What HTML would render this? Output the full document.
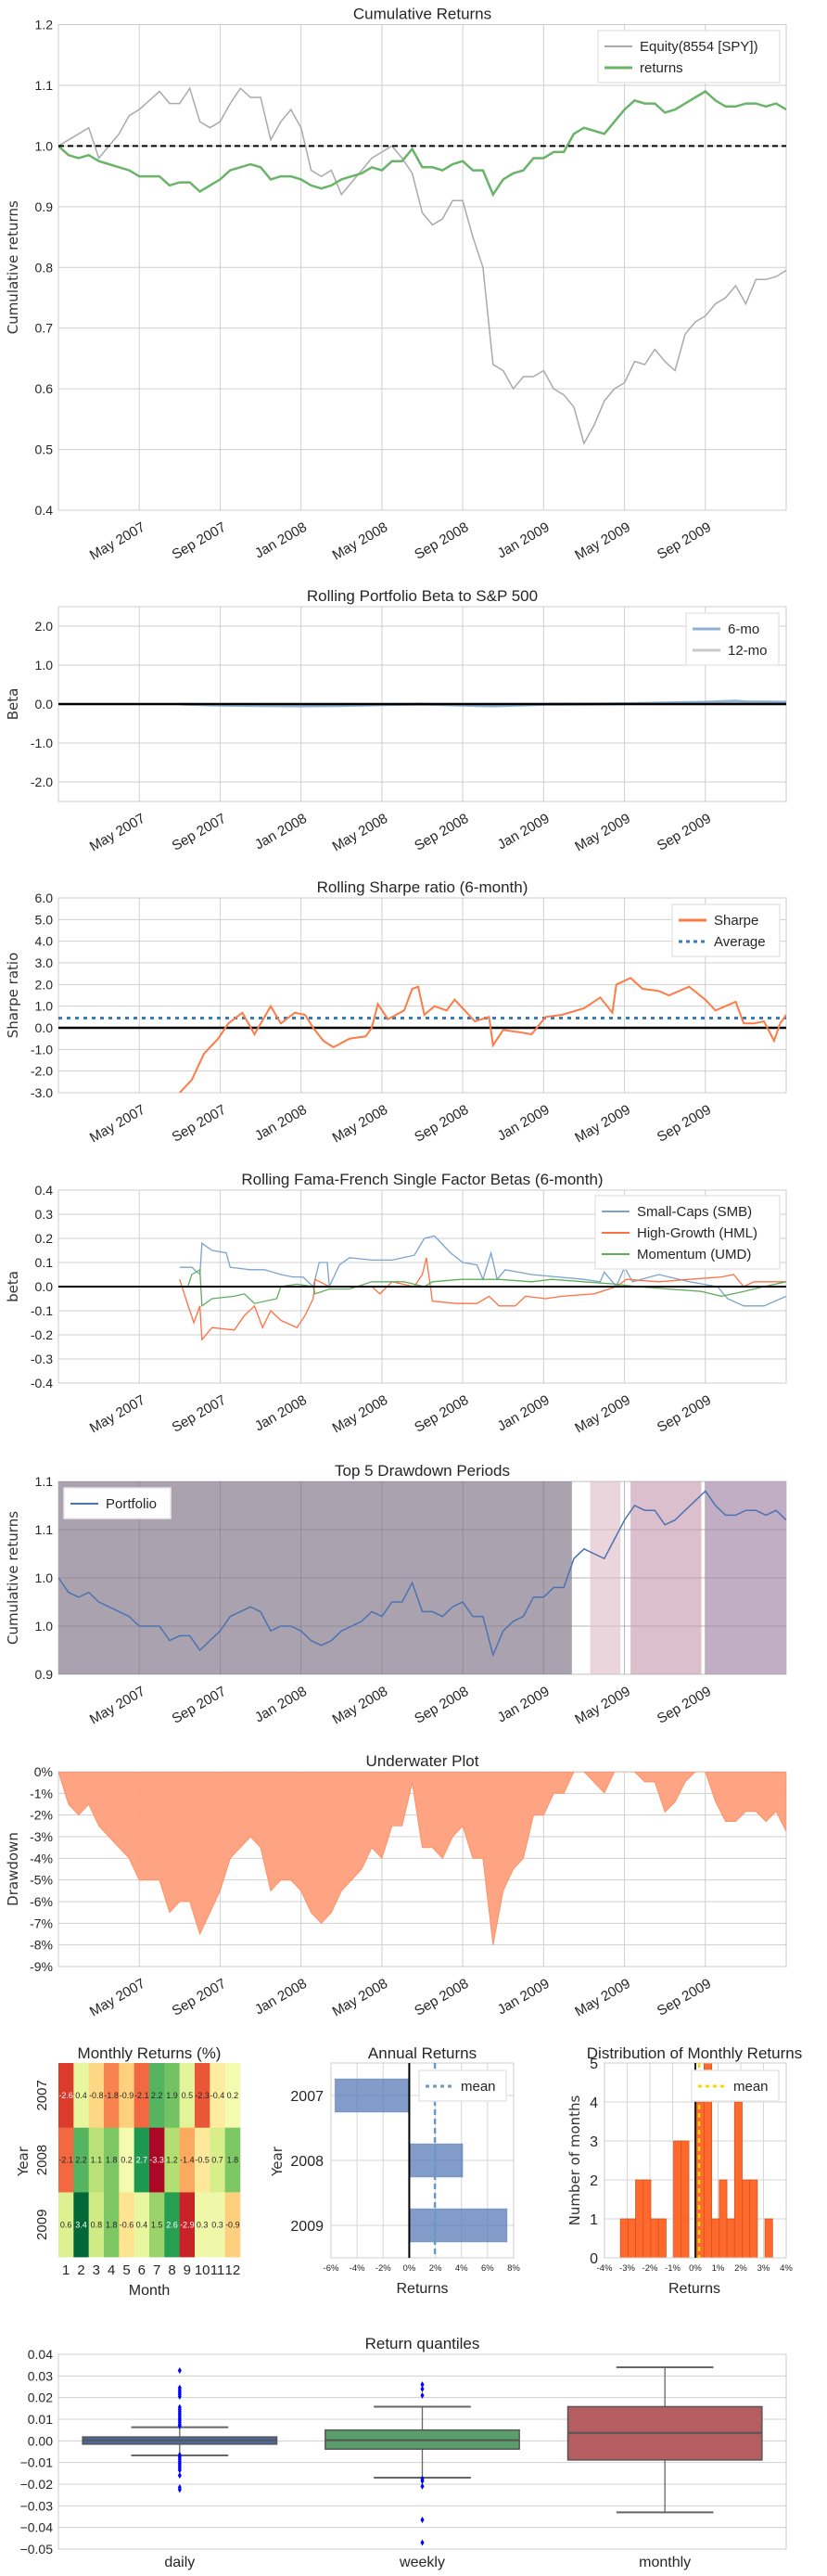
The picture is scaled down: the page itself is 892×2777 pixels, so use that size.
<!DOCTYPE html>
<html><head><meta charset="utf-8"><title>Tear sheet</title>
<style>
html,body{margin:0;padding:0;background:#fff;}
svg{display:block;}
text{font-family:"Liberation Sans Narrow","Liberation Sans",sans-serif;fill:#262626;}
.yl{font-family:"DejaVu Sans","Liberation Sans",sans-serif;font-size:15px;fill:#333;}
</style></head>
<body>
<svg id="root" xmlns="http://www.w3.org/2000/svg" width="892" height="2777" viewBox="0 0 892 2777"></svg>
<script>
// ---------- DATA ----------
const dateTickT = [4, 8, 12, 16, 20, 24, 28, 32];
const dateTickLabels = ['May 2007','Sep 2007','Jan 2008','May 2008','Sep 2008','Jan 2009','May 2009','Sep 2009'];
const spyEquity = [1.0,1.01,1.02,1.03,0.98,1.0,1.02,1.05,1.06,1.075,1.09,1.07,1.07,1.095,1.04,1.03,1.04,1.07,1.095,1.08,1.08,1.01,1.04,1.06,1.03,0.96,0.95,0.96,0.92,0.94,0.96,0.98,0.99,1.0,0.98,0.955,0.89,0.87,0.88,0.91,0.91,0.85,0.80,0.64,0.63,0.60,0.62,0.62,0.63,0.60,0.59,0.57,0.51,0.54,0.58,0.60,0.61,0.645,0.64,0.665,0.645,0.63,0.69,0.71,0.72,0.74,0.75,0.77,0.74,0.78,0.78,0.785,0.795];
const stratReturns = [1.0,0.985,0.98,0.985,0.975,0.97,0.965,0.96,0.95,0.95,0.95,0.935,0.94,0.94,0.925,0.935,0.945,0.96,0.965,0.97,0.965,0.945,0.95,0.95,0.945,0.935,0.93,0.935,0.945,0.95,0.955,0.965,0.96,0.975,0.975,0.995,0.965,0.965,0.96,0.97,0.975,0.96,0.96,0.92,0.945,0.955,0.96,0.98,0.98,0.99,0.99,1.02,1.03,1.025,1.02,1.04,1.06,1.075,1.07,1.07,1.055,1.06,1.07,1.08,1.09,1.075,1.065,1.065,1.07,1.07,1.065,1.07,1.06];
const beta6T = [6,8,10,12,14,16,18,20,21.5,24,27,30,32,33.5,34,36];
const beta6V = [0,-0.03,-0.04,-0.05,-0.04,-0.02,0,-0.03,-0.05,-0.01,0,0.03,0.05,0.08,0.06,0.05];
const beta12T = [12,18,24,30,36];
const beta12V = [-0.02,-0.01,0.0,0.02,0.03];
const sharpeT = [6,6.6,7.2,7.9,8.4,9.1,9.7,10.5,11,11.7,12.2,12.6,13.1,13.6,14.4,15.2,15.5,15.8,16.3,17.1,17.5,17.8,18.1,18.6,19.2,19.6,20.1,20.6,21.3,21.5,22,22.8,23.4,24.1,24.9,26,26.8,27.4,27.6,28.3,28.9,29.7,30.2,31.2,32,32.5,33.5,33.9,34.4,34.9,35.4,35.7,36];
const sharpeV = [-3.0,-2.4,-1.2,-0.5,0.2,0.7,-0.3,1.0,0.2,0.7,0.6,0.0,-0.6,-0.9,-0.5,-0.4,0.0,1.1,0.4,0.8,1.8,1.9,0.6,1.0,0.8,1.3,0.8,0.3,0.5,-0.8,-0.1,-0.2,-0.3,0.5,0.6,0.9,1.4,0.7,2.0,2.3,1.8,1.7,1.5,1.9,1.3,0.8,1.2,0.2,0.2,0.3,-0.6,0.2,0.6];
const sharpeAvg = [0.45];
const smbT = [6.0,6.6,7.0,7.1,7.6,8.3,8.5,9.5,10.2,11.0,11.6,12.1,12.6,12.9,13.3,13.4,13.9,14.4,15.5,16.5,17.6,18.1,18.6,19.4,20.0,20.7,21.0,21.4,21.7,22.1,23.4,24.7,26.0,26.8,27.0,27.6,28.0,28.4,29.7,31.2,32.6,33.1,33.9,34.9,36];
const smbV = [0.08,0.08,0.05,0.18,0.15,0.14,0.08,0.07,0.07,0.05,0.04,0.04,0,0.1,0.1,0,0.09,0.12,0.11,0.11,0.13,0.2,0.21,0.14,0.1,0.09,0.03,0.14,0.03,0.07,0.05,0.04,0.03,0.02,0.06,0,0.08,0.02,0.05,0.02,0,-0.05,-0.08,-0.08,-0.04];
const hmlT = [6.0,6.3,6.7,7.0,7.1,7.6,8.7,9.2,9.7,10.1,10.5,11.0,11.8,12.2,12.6,12.7,13.4,14.4,15.5,15.9,16.5,17.6,18.0,18.2,18.5,19.7,20.7,21.3,21.8,22.6,23.1,24.1,24.9,26.5,27.6,28.1,29.7,31.2,32.8,33.4,33.9,34.4,36];
const hmlV = [0.03,-0.05,-0.15,-0.08,-0.22,-0.17,-0.18,-0.12,-0.08,-0.17,-0.1,-0.14,-0.17,-0.12,-0.05,0.03,0,0,0,-0.03,0.02,0,0.05,0.12,-0.06,-0.07,-0.07,-0.04,-0.08,-0.08,-0.04,-0.05,-0.04,-0.03,0,0.03,0.02,0.03,0.04,0.05,0,0.02,0.02];
const umdT = [6.0,6.4,6.6,7.0,7.1,7.6,8.7,9.2,9.7,10.8,11.0,11.8,12.6,12.7,13.4,14.4,15.5,17.1,18.1,18.5,19.9,21.8,23.4,24.4,26.0,27.6,28.6,30.2,31.8,32.8,33.9,34.9,36];
const umdV = [0,0,0.05,0.07,-0.08,-0.05,-0.04,-0.03,-0.07,-0.05,0,0.01,0,-0.03,-0.01,-0.01,0.02,0.02,0,0.02,0.03,0.03,0.02,0.03,0.02,0.01,0,-0.01,-0.02,-0.04,-0.02,0,0.02];
const ddStart = [0, 26.3, 28.3, 32.0];
const ddEnd = [25.4, 27.8, 31.8, 36];
const ddColors = ['#aaa3af','#ebd5dc','#dbbfcd','#c2aec4'];
const years = ['2007','2008','2009'];
const months = ['1','2','3','4','5','6','7','8','9','10','11','12'];
const monthly2007 = [-2.6,0.4,-0.8,-1.8,-0.9,-2.1,2.2,1.9,0.5,-2.3,-0.4,0.2];
const monthly2008 = [-2.1,2.2,1.1,1.8,0.2,2.7,-3.3,1.2,-1.4,-0.5,0.7,1.8];
const monthly2009 = [0.6,3.4,0.8,1.8,-0.6,0.4,1.5,2.6,-2.9,0.3,0.3,-0.9];
const annualReturns = [-5.7, 4.1, 7.5];
const quantCats = ['daily','weekly','monthly'];
const qLow = [-0.0067,-0.0170,-0.0330];
const qQ1 = [-0.0015,-0.0038,-0.0088];
const qMed = [0.0003,0.0003,0.0037];
const qQ3 = [0.0018,0.0050,0.0158];
const qHigh = [0.0063,0.0158,0.0340];
const outDaily = [0.0068,0.0075,0.0085,0.0095,0.0105,0.0115,0.0125,0.0135,0.0145,0.0155,0.0205,0.0215,0.0225,0.0235,0.0245,0.0325,-0.0065,-0.0075,-0.0085,-0.0095,-0.0105,-0.0115,-0.0125,-0.0135,-0.0160,-0.0215,-0.0225];
const outWeekly = [0.021,0.024,0.026,-0.0175,-0.0185,-0.021,-0.0365,-0.047];
const outMonthly = [];

// ---------- HELPERS ----------
const NS = 'http://www.w3.org/2000/svg';
const svg = document.getElementById('root');
function el(tagName, attrs, parent) {
  const e = document.createElementNS(NS, tagName);
  for (const k in attrs) e.setAttribute(k, attrs[k]);
  (parent || svg).appendChild(e);
  return e;
}
function nm(e, name) {
  
  
  return e;
}
function txt(str, attrs, parent) {
  const e = el('text', attrs, parent);
  e.textContent = str;
  return e;
}
const PL = 63, PR = 848;
function tx(t) { return PL + t / 36 * (PR - PL); }
function lin(d0, d1, r0, r1) { return v => r0 + (v - d0) / (d1 - d0) * (r1 - r0); }
function fmtMinus(s) { return s.replace('-', '\u2212'); }

function panel(name, top, bot, dmin, dmax, ticks, labels, title, ylabel) {
  const g = el('g', {});
  nm(g, name);
  const y = lin(dmin, dmax, bot, top);
  const t = txt(title, {x: (PL+PR)/2, y: top - 6, 'text-anchor': 'middle', 'font-size': 17}, g);
  nm(t, name + '-title');
  const grid = el('g', {}, g);
  nm(grid, name + '-grid');
  ticks.forEach((v, i) => {
    const yy = y(v);
    el('line', {x1: PL, x2: PR, y1: yy, y2: yy, stroke: '#cfcfcf', 'stroke-width': 1}, grid);
    const lb = txt(labels[i], {x: 57, y: yy + 5, 'text-anchor': 'end', 'font-size': 14}, g);
    nm(lb, 'y-tick-label');
  });
  dateTickT.forEach((tt, i) => {
    const xx = tx(tt);
    el('line', {x1: xx, x2: xx, y1: top, y2: bot, stroke: '#cfcfcf', 'stroke-width': 1}, grid);
    const lb = txt(dateTickLabels[i], {transform: `translate(${xx+2},${bot+12}) rotate(-30)`, 'text-anchor': 'end', 'font-size': 15, dy: '0.7em'}, g);
    nm(lb, 'x-tick-label');
  });
  const fr = el('rect', {x: PL, y: top, width: PR-PL, height: bot-top, fill: 'none', stroke: '#cccccc', 'stroke-width': 1}, g);
  nm(fr, name + '-frame');
  const yl = txt(ylabel, {class: 'yl', transform: `translate(19,${(top+bot)/2}) rotate(-90)`, 'text-anchor': 'middle'}, g);
  nm(yl, 'y-axis-title');
  const cid = 'clip-' + name;
  const cp = el('clipPath', {id: cid}, g);
  el('rect', {x: PL, y: top, width: PR-PL, height: bot-top}, cp);
  const plot = el('g', {'clip-path': `url(#${cid})`}, g);
  nm(plot, name + '-plot');
  return {g, grid, plot, y, top, bot};
}
function pathFromTV(T, V, y) {
  return T.map((t, i) => (i ? 'L' : 'M') + tx(t).toFixed(1) + ',' + y(V[i]).toFixed(1)).join('');
}
function evenT(arr) { return arr.map((_, i) => i * 36 / (arr.length - 1)); }
function legend(parent, x, y, w, entries, name) {
  const g = el('g', {}, parent);
  nm(g, name);
  const h = entries.length * 23 + 10;
  el('rect', {x, y, width: w, height: h, fill: '#fff', stroke: '#e6e6e6', 'stroke-width': 1.5}, g);
  entries.forEach((e, i) => {
    const yy = y + 17 + i * 23;
    const ln = el('line', {x1: x+7, x2: x+37, y1: yy, y2: yy, stroke: e.c, 'stroke-width': e.w || 2, 'stroke-dasharray': e.d || 'none', opacity: e.o || 1}, g);
    nm(ln, 'legend-swatch');
    const t = txt(e.t, {x: x+45, y: yy + 5, 'font-size': 15}, g);
    nm(t, 'legend-entry');
  });
}
const decTicks = (a, b, s) => { const r = []; for (let v = a; v <= b + 1e-9; v += s) r.push(+v.toFixed(4)); return r; };

// ---------- PANEL 1 ----------
{
  const ticks = decTicks(0.4, 1.2, 0.1);
  const p = panel('cumulative-returns-chart', 26.5, 550, 0.4, 1.2, ticks, ticks.map(v => v.toFixed(1)), 'Cumulative Returns', 'Cumulative returns');
  const l1 = el('path', {d: pathFromTV(evenT(spyEquity), spyEquity, p.y), fill: 'none', stroke: '#aaaaaa', 'stroke-width': 1.5}, p.plot);
  nm(l1, 'spy-equity-line');
  const l2 = el('path', {d: pathFromTV(evenT(stratReturns), stratReturns, p.y), fill: 'none', stroke: '#6ab46a', 'stroke-width': 2.5}, p.plot);
  nm(l2, 'returns-line');
  const ref = el('line', {x1: PL, x2: PR, y1: p.y(1), y2: p.y(1), stroke: '#000', 'stroke-width': 2, 'stroke-dasharray': '6,4'}, p.plot);
  nm(ref, 'baseline-1');
  legend(p.g, 645, 33, 196, [{t: 'Equity(8554 [SPY])', c: '#aaaaaa'}, {t: 'returns', c: '#6ab46a', w: 3}], 'cumulative-legend');
}
// ---------- PANEL 2 ----------
{
  const ticks = [-2, -1, 0, 1, 2];
  const p = panel('rolling-beta-chart', 654, 864, -2.5, 2.5, ticks, ticks.map(v => v.toFixed(1)), 'Rolling Portfolio Beta to S&P 500', 'Beta');
  const b12 = el('path', {d: pathFromTV(beta12T, beta12V, p.y), fill: 'none', stroke: '#bbbbbb', 'stroke-width': 3, opacity: 0.8}, p.plot);
  nm(b12, 'beta-12mo-line');
  const b6 = el('path', {d: pathFromTV(beta6T, beta6V, p.y), fill: 'none', stroke: '#7ba3cc', 'stroke-width': 3, opacity: 0.8}, p.plot);
  nm(b6, 'beta-6mo-line');
  const z = el('line', {x1: PL, x2: PR, y1: p.y(0), y2: p.y(0), stroke: '#000', 'stroke-width': 2.5}, p.plot);
  nm(z, 'zero-line');
  legend(p.g, 740, 661, 100, [{t: '6-mo', c: '#8fb2d4', w: 3}, {t: '12-mo', c: '#c8c8c8', w: 3}], 'beta-legend');
}
// ---------- PANEL 3 ----------
{
  const ticks = [-3,-2,-1,0,1,2,3,4,5,6];
  const p = panel('rolling-sharpe-chart', 968, 1178, -3, 6, ticks, ticks.map(v => v.toFixed(1)), 'Rolling Sharpe ratio (6-month)', 'Sharpe ratio');
  const av = el('line', {x1: PL, x2: PR, y1: p.y(sharpeAvg[0]), y2: p.y(sharpeAvg[0]), stroke: '#3a7db5', 'stroke-width': 3, 'stroke-dasharray': '4,5'}, p.plot);
  nm(av, 'sharpe-average-line');
  const z = el('line', {x1: PL, x2: PR, y1: p.y(0), y2: p.y(0), stroke: '#000', 'stroke-width': 2.5}, p.plot);
  nm(z, 'zero-line');
  const s = el('path', {d: pathFromTV(sharpeT, sharpeV, p.y), fill: 'none', stroke: '#ff7b45', 'stroke-width': 2}, p.plot);
  nm(s, 'sharpe-line');
  legend(p.g, 725, 975, 116, [{t: 'Sharpe', c: '#ff7b45', w: 3}, {t: 'Average', c: '#3a7db5', w: 3, d: '4,4'}], 'sharpe-legend');
}
// ---------- PANEL 4 ----------
{
  const ticks = decTicks(-0.4, 0.4, 0.1);
  const p = panel('fama-french-chart', 1283, 1491, -0.4, 0.4, ticks, ticks.map(v => v.toFixed(1)), 'Rolling Fama-French Single Factor Betas (6-month)', 'beta');
  const a = el('path', {d: pathFromTV(smbT, smbV, p.y), fill: 'none', stroke: '#7ba3cc', 'stroke-width': 1.3}, p.plot);
  nm(a, 'smb-line');
  const b = el('path', {d: pathFromTV(hmlT, hmlV, p.y), fill: 'none', stroke: '#ff7043', 'stroke-width': 1.3}, p.plot);
  nm(b, 'hml-line');
  const c = el('path', {d: pathFromTV(umdT, umdV, p.y), fill: 'none', stroke: '#5fae5f', 'stroke-width': 1.3}, p.plot);
  nm(c, 'umd-line');
  const z = el('line', {x1: PL, x2: PR, y1: p.y(0), y2: p.y(0), stroke: '#000', 'stroke-width': 2}, p.plot);
  nm(z, 'zero-line');
  legend(p.g, 642, 1289, 199, [{t: 'Small-Caps (SMB)', c: '#7ba3cc'}, {t: 'High-Growth (HML)', c: '#ff7043'}, {t: 'Momentum (UMD)', c: '#5fae5f'}], 'factor-legend');
}
// ---------- PANEL 5 ----------
{
  const ticks = [0.9, 0.95, 1.0, 1.05, 1.1];
  const p = panel('drawdown-periods-chart', 1597, 1805, 0.9, 1.1, ticks, ['0.9','1.0','1.0','1.1','1.1'], 'Top 5 Drawdown Periods', 'Cumulative returns');
  ddStart.forEach((s, i) => {
    const r = el('rect', {x: tx(s), y: p.top, width: tx(ddEnd[i]) - tx(s), height: p.bot - p.top, fill: ddColors[i]}, p.plot);
    nm(r, 'drawdown-period-' + (i + 1));
  });
  ticks.forEach(v => el('line', {x1: PL, x2: PR, y1: p.y(v), y2: p.y(v), stroke: 'rgba(0,0,0,0.13)'}, p.plot));
  dateTickT.forEach(t => el('line', {x1: tx(t), x2: tx(t), y1: p.top, y2: p.bot, stroke: 'rgba(0,0,0,0.13)'}, p.plot));
  const l = el('path', {d: pathFromTV(evenT(stratReturns), stratReturns, p.y), fill: 'none', stroke: '#4c72b0', 'stroke-width': 1.5}, p.plot);
  nm(l, 'portfolio-line');
  legend(p.g, 69, 1604, 115, [{t: 'Portfolio', c: '#4c72b0'}], 'portfolio-legend');
}
// ---------- PANEL 6 ----------
{
  const ticks = [-0.09,-0.08,-0.07,-0.06,-0.05,-0.04,-0.03,-0.02,-0.01,0];
  const p = panel('underwater-chart', 1910, 2120, -0.09, 0, ticks, ticks.map(v => Math.round(v*100) + '%'), 'Underwater Plot', 'Drawdown');
  let peak = -Infinity;
  const dd = stratReturns.map(v => { peak = Math.max(peak, v); return v / peak - 1; });
  const T = evenT(dd);
  let d = 'M' + tx(0) + ',' + p.y(0);
  dd.forEach((v, i) => { d += 'L' + tx(T[i]).toFixed(1) + ',' + p.y(v).toFixed(1); });
  d += 'L' + tx(36) + ',' + p.y(0) + 'Z';
  const a = el('path', {d, fill: '#fea07c', stroke: '#fc8d62', 'stroke-width': 1, opacity: 0.95}, p.plot);
  nm(a, 'underwater-area');
}
// ---------- Monthly heatmap ----------
{
  const g = el('g', {});
  nm(g, 'monthly-returns-heatmap');
  const rows = [monthly2007, monthly2008, monthly2009];
  const stops = ['#a50026','#d73027','#f46d43','#fdae61','#fee08b','#ffffbf','#d9ef8b','#a6d96a','#66bd63','#1a9850','#006837'];
  function hex(h){return [1,3,5].map(i=>parseInt(h.substr(i,2),16));}
  function cmap(v){ let f=(v+3.4)/6.8; f=Math.max(0,Math.min(1,f)); const k=f*10; const i=Math.min(9,Math.floor(k)); const a=hex(stops[i]),b=hex(stops[i+1]); const u=k-i; return `rgb(${a.map((c,j)=>Math.round(c+(b[j]-c)*u)).join(',')})`; }
  const x0 = 63, y0 = 2224, cw = 196/12, ch = 69.7;
  const t = txt('Monthly Returns (%)', {x: 161, y: 2219, 'text-anchor': 'middle', 'font-size': 17}, g);
  nm(t, 'heatmap-title');
  rows.forEach((row, r) => {
    row.forEach((v, c) => {
      const rc = el('rect', {x: x0 + c*cw, y: y0 + r*ch, width: cw + 0.3, height: ch + 0.3, fill: cmap(v)}, g);
      nm(rc, 'heatmap-cell');
      const f = (v + 3.4) / 6.8;
      const lt = txt(v.toFixed(1), {x: x0 + c*cw + cw/2, y: y0 + r*ch + ch/2 + 3, 'text-anchor': 'middle', 'font-size': 9, style: `fill:${(f < 0.12 || f > 0.88) ? '#fff' : '#262626'}`}, g);
      nm(lt, 'heatmap-value');
    });
    const yl = txt(years[r], {transform: `translate(50,${y0 + r*ch + ch/2}) rotate(-90)`, 'text-anchor': 'middle', 'font-size': 15}, g);
    nm(yl, 'year-tick-label');
  });
  months.forEach((m, c) => {
    const ml = txt(m, {x: x0 + c*cw + cw/2, y: 2452, 'text-anchor': 'middle', 'font-size': 15}, g);
    nm(ml, 'month-tick-label');
  });
  const xl = txt('Month', {x: 161, y: 2474, 'text-anchor': 'middle', 'font-size': 16}, g);
  nm(xl, 'x-axis-title');
  const yt = txt('Year', {class: 'yl', transform: 'translate(30,2330) rotate(-90)', 'text-anchor': 'middle'}, g);
  nm(yt, 'y-axis-title');
}
// ---------- Annual returns ----------
{
  const g = el('g', {});
  nm(g, 'annual-returns-chart');
  const L = 357, R = 554, T = 2224, B = 2434;
  const x = lin(-6, 8, L, R);
  const xt = [-6,-4,-2,0,2,4,6,8];
  const t = txt('Annual Returns', {x: (L+R)/2, y: 2219, 'text-anchor': 'middle', 'font-size': 17}, g);
  nm(t, 'annual-title');
  xt.forEach(v => {
    el('line', {x1: x(v), x2: x(v), y1: T, y2: B, stroke: '#d6d6d6'}, g);
    const lb = txt(v + '%', {x: x(v), y: 2448, 'text-anchor': 'middle', 'font-size': 9.5}, g);
    nm(lb, 'x-tick-label');
  });
  const bandH = (B - T) / 3;
  annualReturns.forEach((v, i) => {
    const cy = T + bandH * (i + 0.5);
    el('line', {x1: L, x2: R, y1: cy, y2: cy, stroke: '#d6d6d6'}, g);
    const b = el('rect', {x: Math.min(x(0), x(v)), y: cy - 18, width: Math.abs(x(v) - x(0)), height: 36, fill: '#4c72b0', 'fill-opacity': 0.7, stroke: '#4c72b0', 'stroke-opacity': 0.3}, g);
    nm(b, 'annual-bar-' + years[i]);
    const yl = txt(years[i], {x: 349, y: cy + 6, 'text-anchor': 'end', 'font-size': 16}, g);
    nm(yl, 'year-tick-label');
  });
  el('rect', {x: L, y: T, width: R-L, height: B-T, fill: 'none', stroke: '#cccccc'}, g);
  const z = el('line', {x1: x(0), x2: x(0), y1: T, y2: B, stroke: '#000', 'stroke-width': 2}, g);
  nm(z, 'zero-line');
  const mean = annualReturns.reduce((a, b) => a + b, 0) / annualReturns.length;
  const m = el('line', {x1: x(mean), x2: x(mean), y1: T, y2: B, stroke: '#6a9ac4', 'stroke-width': 2.5, 'stroke-dasharray': '6,4'}, g);
  nm(m, 'mean-line');
  legend(g, 452, 2232, 94, [{t: 'mean', c: '#6a9ac4', w: 3, d: '4,4'}], 'annual-legend');
  const xl = txt('Returns', {x: (L+R)/2, y: 2472, 'text-anchor': 'middle', 'font-size': 16}, g);
  nm(xl, 'x-axis-title');
  const yl = txt('Year', {class: 'yl', transform: 'translate(304,2330) rotate(-90)', 'text-anchor': 'middle'}, g);
  nm(yl, 'y-axis-title');
}
// ---------- Distribution ----------
{
  const g = el('g', {});
  nm(g, 'monthly-distribution-chart');
  const L = 652, R = 848, T = 2224, B = 2434;
  const x = lin(-4, 4, L, R), y = lin(0, 5, B, T);
  const all = monthly2007.concat(monthly2008, monthly2009);
  const t = txt('Distribution of Monthly Returns', {x: 749, y: 2219, 'text-anchor': 'middle', 'font-size': 17}, g);
  nm(t, 'distribution-title');
  [-4,-3,-2,-1,0,1,2,3,4].forEach(v => {
    el('line', {x1: x(v), x2: x(v), y1: T, y2: B, stroke: '#d6d6d6'}, g);
    const lb = txt(v + '%', {x: x(v), y: 2448, 'text-anchor': 'middle', 'font-size': 9.5}, g);
    nm(lb, 'x-tick-label');
  });
  [0,1,2,3,4,5].forEach(v => {
    el('line', {x1: L, x2: R, y1: y(v), y2: y(v), stroke: '#d6d6d6'}, g);
    const lb = txt(String(v), {x: 645, y: y(v) + 6, 'text-anchor': 'end', 'font-size': 16}, g);
    nm(lb, 'y-tick-label');
  });
  const mn = Math.min(...all), mx = Math.max(...all), nb = 20, bw = (mx - mn) / nb;
  const counts = new Array(nb).fill(0);
  all.forEach(v => { counts[Math.min(nb - 1, Math.floor((v - mn) / bw + 1e-9))]++; });
  counts.forEach((c, i) => {
    if (!c) return;
    const b = el('rect', {x: x(mn + i*bw), y: y(c), width: x(mn + (i+1)*bw) - x(mn + i*bw), height: B - y(c), fill: '#ff6a2c', stroke: '#d2541f', 'stroke-width': 0.8}, g);
    nm(b, 'histogram-bar');
  });
  el('rect', {x: L, y: T, width: R-L, height: B-T, fill: 'none', stroke: '#cccccc'}, g);
  const z = el('line', {x1: x(0), x2: x(0), y1: T, y2: B, stroke: '#222', 'stroke-width': 2}, g);
  nm(z, 'zero-line');
  const mean = all.reduce((a, b) => a + b, 0) / all.length;
  const m = el('line', {x1: x(mean), x2: x(mean), y1: T, y2: B, stroke: '#ffd400', 'stroke-width': 2.5, 'stroke-dasharray': '5,4'}, g);
  nm(m, 'mean-line');
  legend(g, 746, 2232, 94, [{t: 'mean', c: '#ffd400', w: 3, d: '4,4'}], 'distribution-legend');
  const xl = txt('Returns', {x: 749, y: 2472, 'text-anchor': 'middle', 'font-size': 16}, g);
  nm(xl, 'x-axis-title');
  const yl = txt('Number of months', {class: 'yl', transform: 'translate(625,2329) rotate(-90)', 'text-anchor': 'middle'}, g);
  nm(yl, 'y-axis-title');
}
// ---------- Return quantiles ----------
{
  const g = el('g', {});
  nm(g, 'return-quantiles-chart');
  const L = 63, R = 848, T = 2538, B = 2748;
  const y = lin(-0.05, 0.04, B, T);
  const t = txt('Return quantiles', {x: (L+R)/2, y: 2532, 'text-anchor': 'middle', 'font-size': 17}, g);
  nm(t, 'quantiles-title');
  decTicks(-0.05, 0.04, 0.01).forEach(v => {
    el('line', {x1: L, x2: R, y1: y(v), y2: y(v), stroke: '#d0d0d0'}, g);
    const lb = txt(fmtMinus(v.toFixed(2)), {x: 57, y: y(v) + 5, 'text-anchor': 'end', 'font-size': 14}, g);
    nm(lb, 'y-tick-label');
  });
  el('rect', {x: L, y: T, width: R-L, height: B-T, fill: 'none', stroke: '#cccccc'}, g);
  const colors = ['#4c6a9c', '#5a9e6c', '#b55d60'];
  const outs = [outDaily, outWeekly, outMonthly];
  const bw = (R - L) / 3;
  quantCats.forEach((c, i) => {
    const cx = L + bw * (i + 0.5);
    const w = bw * 0.8, cap = bw * 0.4;
    el('line', {x1: cx, x2: cx, y1: y(qHigh[i]), y2: y(qQ3[i]), stroke: '#666', 'stroke-width': 1.3}, g);
    el('line', {x1: cx, x2: cx, y1: y(qQ1[i]), y2: y(qLow[i]), stroke: '#666', 'stroke-width': 1.3}, g);
    const c1 = el('line', {x1: cx - cap/2, x2: cx + cap/2, y1: y(qHigh[i]), y2: y(qHigh[i]), stroke: '#666', 'stroke-width': 2}, g);
    nm(c1, c + '-whisker-high');
    const c2 = el('line', {x1: cx - cap/2, x2: cx + cap/2, y1: y(qLow[i]), y2: y(qLow[i]), stroke: '#666', 'stroke-width': 2}, g);
    nm(c2, c + '-whisker-low');
    const box = el('rect', {x: cx - w/2, y: y(qQ3[i]), width: w, height: y(qQ1[i]) - y(qQ3[i]), fill: colors[i], stroke: '#555', 'stroke-width': 1.5}, g);
    nm(box, c + '-box');
    const med = el('line', {x1: cx - w/2, x2: cx + w/2, y1: y(qMed[i]), y2: y(qMed[i]), stroke: '#555', 'stroke-width': 2}, g);
    nm(med, c + '-median');
    outs[i].forEach(v => {
      const yy = y(v);
      const d = el('path', {d: `M${cx},${yy-3.5}L${cx+2},${yy}L${cx},${yy+3.5}L${cx-2},${yy}Z`, fill: '#0000ff'}, g);
      nm(d, c + '-outlier');
    });
    const lb = txt(c, {x: cx, y: 2767, 'text-anchor': 'middle', 'font-size': 16}, g);
    nm(lb, 'x-tick-label');
  });
}
</script>
</body></html>
